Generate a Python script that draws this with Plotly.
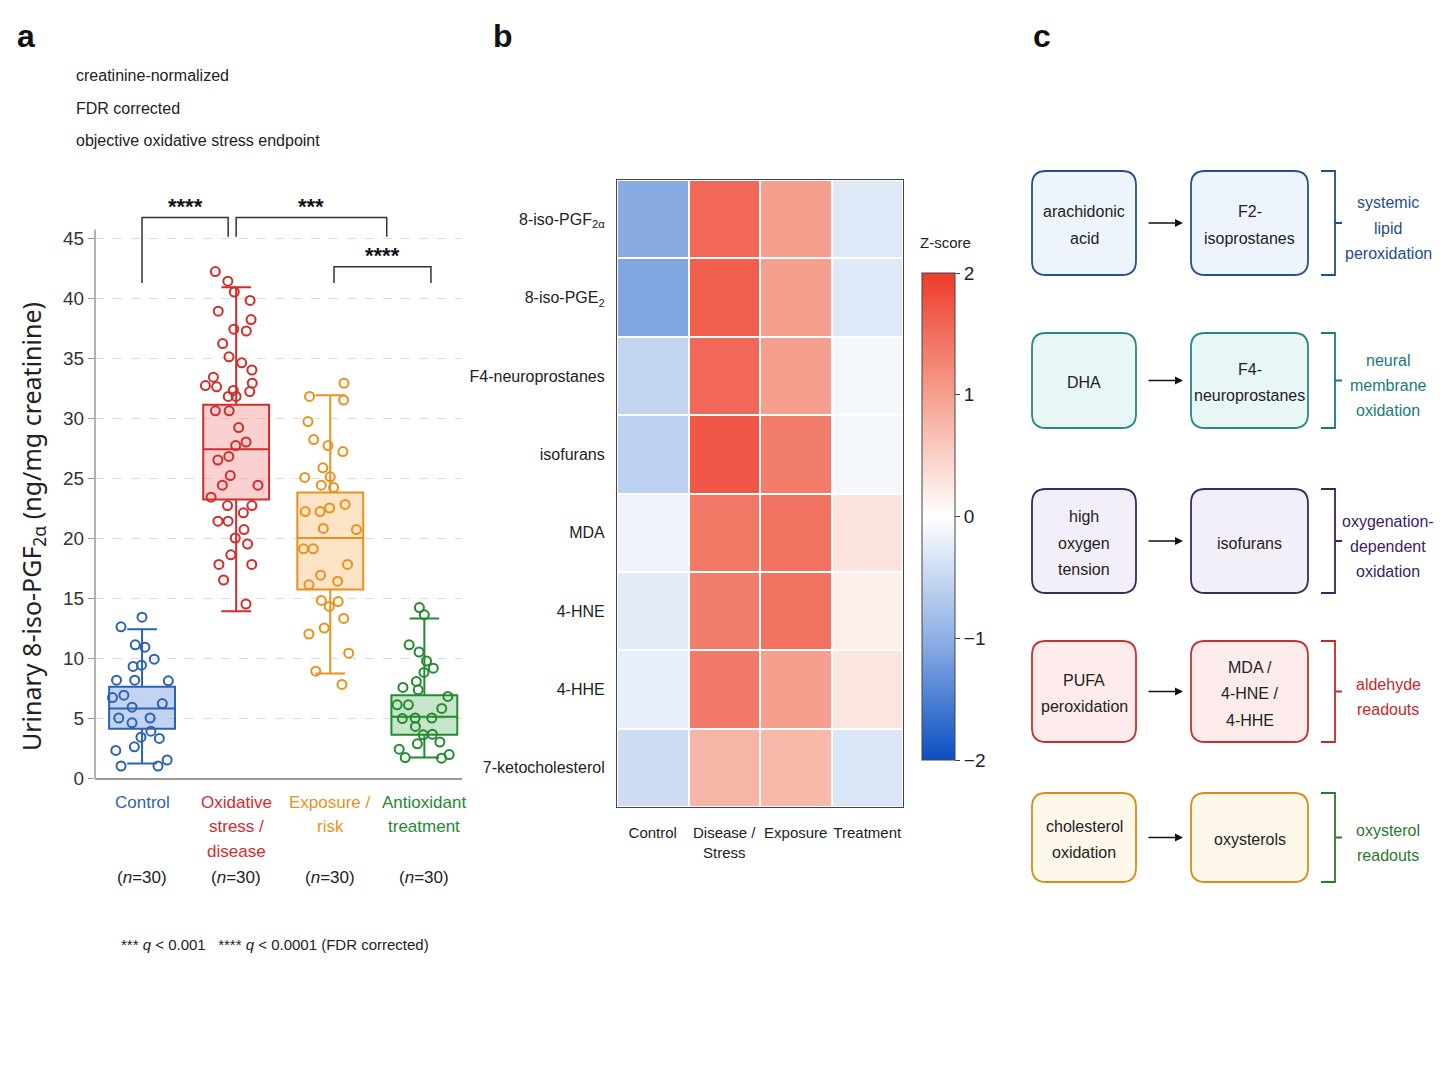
import plotly.graph_objects as go

NARROW = "Liberation Sans, Arial, sans-serif"
SANS = "Noto Sans, Open Sans, DejaVu Sans, sans-serif"
W, H = 1432, 1058


# reference pixel -> paper coords (page body has an 8px margin)
def px(x):
    return (x - 8) / W


def py(y):
    return 1 - (y - 8) / H


# ---------------- panel a data ----------------
group_labels = ['Control', 'Oxidative<br>stress /<br>disease', 'Exposure /<br>risk', 'Antioxidant<br>treatment']
group_n = [30, 30, 30, 30]
group_line = ['#2d62b3', '#d12d2d', '#e8921c', '#238a31']
group_fill = ['rgba(120,160,225,0.45)', 'rgba(245,150,150,0.45)', 'rgba(250,195,130,0.45)', 'rgba(130,200,135,0.45)']

box_q1 = [4.1, 23.2, 15.7, 3.6]
box_median = [5.8, 27.4, 20.0, 5.1]
box_q3 = [7.6, 31.1, 23.8, 6.9]
box_low = [1.2, 13.9, 8.7, 1.7]
box_high = [12.4, 40.9, 31.9, 13.3]

pts_control = [13.4, 12.6, 10.9, 11.1, 9.9, 9.3, 9.4, 8.15, 8.15, 8.1, 6.9, 6.7, 6.2, 5.9,
               5.0, 5.0, 4.6, 3.9, 3.3, 3.4, 2.6, 2.3, 1.5, 1.0, 1.0]
pts_oxidative = [42.2, 41.4, 40.5, 39.8, 38.9, 38.2, 37.25, 37.4, 36.2, 35.1, 34.6, 34.0, 33.4,
                 32.9, 32.7, 32.6, 32.3, 32.2, 31.8, 31.8, 30.6, 30.6, 29.2, 28.0, 27.7, 26.5,
                 26.8, 25.2, 24.4, 24.4, 23.4, 22.7, 22.7, 22.1, 21.4, 21.4, 20.7, 20.0, 19.5,
                 18.6, 17.8, 17.8, 16.5, 14.5]
pts_exposure = [32.9, 31.8, 31.5, 29.7, 28.2, 27.7, 27.2, 25.85, 25.1, 25.05, 24.4, 24.2, 22.8,
                22.5, 22.2, 22.2, 20.8, 20.7, 19.1, 19.1, 17.8, 16.9, 16.4, 16.1, 14.7, 14.8,
                14.3, 13.3, 12.5, 12.0, 10.4, 8.9, 7.8]
pts_antiox = [14.2, 13.6, 11.1, 10.5, 9.75, 9.15, 8.8, 8.05, 7.55, 7.35, 6.8, 6.1, 6.1, 5.8,
              4.95, 5.0, 5.0, 4.3, 3.6, 3.65, 3.0, 2.85, 2.4, 1.95, 1.7, 1.65]
group_points = [pts_control, pts_oxidative, pts_exposure, pts_antiox]

# ---------------- panel b data ----------------
conditions = ['Control', 'Disease /<br>Stress', 'Exposure', 'Treatment']
markers = ['8-iso-PGF<sub>2α</sub>', '8-iso-PGE<sub>2</sub>', 'F4-neuroprostanes', 'isofurans',
           'MDA', '4-HNE', '4-HHE', '7-ketocholesterol']
z_control = [-1.05, -1.1, -0.55, -0.6, -0.15, -0.25, -0.2, -0.45]
z_disease = [1.55, 1.65, 1.55, 1.72, 1.4, 1.35, 1.38, 0.78]
z_exposure = [1.0, 1.0, 1.0, 1.35, 1.45, 1.45, 1.0, 0.75]
z_treatment = [-0.28, -0.28, -0.1, -0.1, 0.3, 0.18, 0.28, -0.32]
z_matrix = [list(r) for r in zip(z_control, z_disease, z_exposure, z_treatment)]

# ---------------- panel c data ----------------
source_texts = ['arachidonic<br>acid', 'DHA', 'high<br>oxygen<br>tension', 'PUFA<br>peroxidation',
                'cholesterol<br>oxidation']
product_texts = ['F2-<br>isoprostanes', 'F4-<br>neuroprostanes', 'isofurans',
                 'MDA /<br>4-HNE /<br>4-HHE', 'oxysterols']
readout_texts = ['systemic<br>lipid<br>peroxidation', 'neural<br>membrane<br>oxidation',
                 'oxygenation-<br>dependent<br>oxidation', 'aldehyde<br>readouts', 'oxysterol<br>readouts']
row_border = ['#284f8c', '#2a8585', '#3b2a5e', '#c43232', '#d98c1a']
row_fill = ['#eef4fb', '#e9f6f6', '#f3eff8', '#fdeceb', '#fdf8ea']
readout_color = ['#1f4e8c', '#1a7a7a', '#3b2260', '#c62828', '#2a7a2a']
row_top = [171, 333, 489, 641, 793]
row_bottom = [275, 428, 593, 742, 882]

fig = go.Figure()

# boxes (precomputed stats) + jittered points
for i in range(4):
    fig.add_trace(go.Box(
        x=[i], q1=[box_q1[i]], median=[box_median[i]], q3=[box_q3[i]],
        lowerfence=[box_low[i]], upperfence=[box_high[i]],
        width=0.7, whiskerwidth=0.45, boxpoints=False,
        fillcolor=group_fill[i], line=dict(color=group_line[i], width=2),
        xaxis='x', yaxis='y', showlegend=False, hoverinfo='skip'
    ))
    fig.add_trace(go.Box(
        x=[i] * len(group_points[i]), y=group_points[i],
        width=0.7, boxpoints='all', jitter=1.0, pointpos=0,
        fillcolor='rgba(0,0,0,0)', line=dict(color='rgba(0,0,0,0)', width=0),
        marker=dict(symbol='circle-open', size=9, color=group_line[i],
                    line=dict(width=2, color=group_line[i])),
        xaxis='x', yaxis='y', showlegend=False
    ))

fig.add_trace(go.Heatmap(
    z=z_matrix, x=conditions, y=markers, xaxis='x2', yaxis='y2',
    zmin=-2, zmax=2, xgap=2, ygap=2,
    colorscale=[[0, '#0b4ec2'], [0.25, '#8fb0e4'], [0.5, '#ffffff'], [0.75, '#f5a08e'], [1, '#ee3b2b']],
    colorbar=dict(
        x=px(922), xanchor='left', y=py(516.5), yanchor='middle',
        len=487, lenmode='pixels', thickness=33, xpad=0, ypad=0,
        outlinewidth=1, outlinecolor='#444',
        tickvals=[-2, -1, 0, 1, 2], ticktext=['−2', '−1', '0', '1', '2'],
        ticks='outside', ticklen=5, tickcolor='#444',
        tickfont=dict(family=NARROW, size=19, color='#222')
    ),
    hoverinfo='skip'
))

shapes = []
annotations = []


def note(x, y, text, size, color='#222', family=NARROW, xanchor='center', xref='paper', **kw):
    d = dict(x=x, y=y, xref=xref, yref='paper', text=text, showarrow=False,
             xanchor=xanchor, yanchor='middle', font=dict(family=family, size=size, color=color))
    d.update(kw)
    annotations.append(d)


def stacked(x, yc, text, size, spacing, color='#222', xref='paper', first=None):
    # one annotation per line so the line spacing can follow the reference
    parts = text.split('<br>')
    y0 = yc - (len(parts) - 1) / 2 * spacing if first is None else first
    for j, s in enumerate(parts):
        note(x, py(y0 + j * spacing), s, size, color=color, xref=xref)


# y axis line stops just above 45
shapes.append(dict(type='line', xref='x domain', x0=0, x1=0, yref='y', y0=0, y1=45.7,
                   line=dict(color='#999999', width=1.5)))

# significance brackets
brackets = [(0, 0.915, 41.25, 45.1, 46.7, '****'),
            (1.0, 2.6, 45.1, 45.1, 46.7, '***'),
            (2.04, 3.07, 41.25, 41.25, 42.6, '****')]
for xa, xb, ya, yb, ytop, stars in brackets:
    shapes.append(dict(type='path', xref='x', yref='y',
                       path=f'M {xa},{ya} L {xa},{ytop} L {xb},{ytop} L {xb},{yb}',
                       line=dict(color='#333333', width=1.5)))
    annotations.append(dict(x=(xa + xb) / 2, y=ytop, xref='x', yref='y', xanchor='center',
                            yanchor='bottom', yshift=-3, text=f'<b>{stars}</b>', showarrow=False,
                            font=dict(family=NARROW, size=22, color='#111')))

# group labels and sample sizes
for i, n in enumerate(group_n):
    stacked(i, None, group_labels[i], 17, 24.5, color=group_line[i], xref='x', first=802)
    note(i, py(877), f'(<i>n</i>={n})', 17, xref='x')

note(px(32), py(527), 'Urinary 8-iso-PGF<sub>2α</sub> (ng/mg creatinine)', 25, family=SANS, textangle=-90)

for k, txt in enumerate(['creatinine-normalized', 'FDR corrected', 'objective oxidative stress endpoint']):
    note(px(74), py(75 + 33 * k), txt, 16, xanchor='left')

note(px(275), py(944), '*** <i>q</i> < 0.001\u00a0\u00a0\u00a0**** <i>q</i> < 0.0001 (FDR corrected)', 15)

for lab, xx in [('a', 15), ('b', 491), ('c', 1031)]:
    note(px(xx), py(36), f'<b>{lab}</b>', 32, color='#111', xanchor='left')

note(px(945), py(242), 'Z-score', 15)


# panel c diagram
def rrect(x0, y0, x1, y1, r=14):
    X0, X1, YT, YB = px(x0), px(x1), py(y0), py(y1)
    rx, ry = r / W, r / H
    return (f'M {X0 + rx},{YT} L {X1 - rx},{YT} Q {X1},{YT} {X1},{YT - ry} '
            f'L {X1},{YB + ry} Q {X1},{YB} {X1 - rx},{YB} L {X0 + rx},{YB} '
            f'Q {X0},{YB} {X0},{YB + ry} L {X0},{YT - ry} Q {X0},{YT} {X0 + rx},{YT} Z')


for k in range(5):
    top, bot = row_top[k], row_bottom[k]
    mid = (top + bot) / 2
    for x0, x1, txt in [(1032, 1136, source_texts[k]), (1191, 1308, product_texts[k])]:
        shapes.append(dict(type='path', xref='paper', yref='paper', path=rrect(x0, top, x1, bot),
                           fillcolor=row_fill[k], line=dict(color=row_border[k], width=1.8)))
        stacked(px((x0 + x1) / 2), mid + 2, txt, 16, 26.5)
    annotations.append(dict(x=px(1183), y=py(mid), xref='paper', yref='paper', ax=-36, ay=0,
                            text='', showarrow=True, arrowhead=2, arrowsize=1, arrowwidth=1.6,
                            arrowcolor='#111'))
    shapes.append(dict(type='path', xref='paper', yref='paper',
                       path=(f'M {px(1321)},{py(top)} L {px(1335)},{py(top)} L {px(1335)},{py(bot)} '
                             f'L {px(1321)},{py(bot)} M {px(1335)},{py(mid)} L {px(1342)},{py(mid)}'),
                       line=dict(color=readout_color[k], width=1.8)))
    stacked(px(1388), mid + 5, readout_texts[k], 16, 25, color=readout_color[k])

fig.update_layout(
    width=W, height=H,
    margin=dict(l=0, r=0, t=0, b=0),
    paper_bgcolor='white', plot_bgcolor='white',
    font=dict(family=NARROW, color='#222'),
    boxmode='overlay',
    showlegend=False,
    xaxis=dict(domain=[px(95), px(462)], range=[-0.5, 3.4], showticklabels=False,
               showline=True, linecolor='#999999', linewidth=1.5, showgrid=False, zeroline=False,
               ticks='', anchor='y', automargin=False),
    yaxis=dict(domain=[py(778), py(202)], range=[0, 48], tickvals=list(range(0, 50, 5)),
               tickfont=dict(family=NARROW, size=19, color='#333'), showgrid=True, gridcolor='#dcdcdc',
               griddash='dash', gridwidth=1, ticks='outside', ticklen=6, tickcolor='#999999',
               showline=False, zeroline=False, anchor='x', automargin=False),
    xaxis2=dict(domain=[px(617), px(903)], tickangle=0, tickfont=dict(family=NARROW, size=15),
                showline=True, mirror=True, linecolor='#444', linewidth=1.2, ticks='', anchor='y2',
                ticklabelstandoff=12, showgrid=False, automargin=False),
    yaxis2=dict(domain=[py(807), py(180)], autorange='reversed', tickfont=dict(family=NARROW, size=16),
                showline=True, mirror=True, linecolor='#444', linewidth=1.2, ticks='',
                ticklabelstandoff=8, anchor='x2', showgrid=False, automargin=False),
    shapes=shapes,
    annotations=annotations,
)

fig.write_html("out.html")
